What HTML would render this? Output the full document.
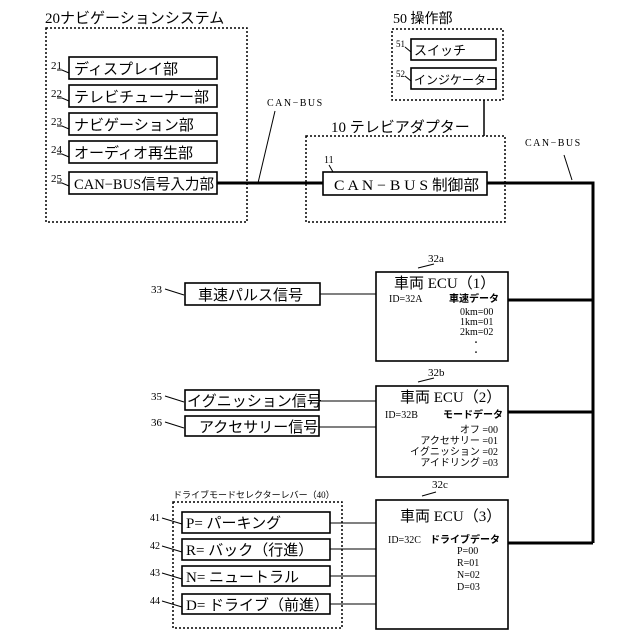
<!DOCTYPE html>
<html><head><meta charset="utf-8"><style>
html,body{margin:0;padding:0;background:#fff;}
svg{display:block;font-family:"Liberation Serif","Noto Sans CJK JP",serif;}
.b{fill:#fff;stroke:#000;stroke-width:1.6}
.d{fill:none;stroke:#000;stroke-width:1.5;stroke-dasharray:2 2}
.t{font-size:15px}
.s{font-size:11px}
.l{stroke:#000;stroke-width:1;fill:none}
.k{stroke:#000;stroke-width:3;fill:none}
.n{stroke:#000;stroke-width:1.5;fill:none}
</style></head><body>
<svg width="640" height="640" viewBox="0 0 640 640">
<text x="45" y="23" font-size="15">20ナビゲーションシステム</text>
<rect class="d" x="46" y="28" width="201" height="194"/>
<rect class="b" x="69" y="57" width="148" height="22"/><text class="t" x="74" y="74">ディスプレイ部</text>
<rect class="b" x="69" y="85" width="148" height="22"/><text class="t" x="74" y="102">テレビチューナー部</text>
<rect class="b" x="69" y="113" width="148" height="22"/><text class="t" x="74" y="130">ナビゲーション部</text>
<rect class="b" x="69" y="141" width="148" height="22"/><text class="t" x="74" y="158">オーディオ再生部</text>
<rect class="b" x="69" y="172" width="148" height="22"/><text class="t" x="74" y="189" textLength="140" lengthAdjust="spacingAndGlyphs">CAN−BUS信号入力部</text>
<g class="s"><text x="51" y="69">21</text><text x="51" y="97">22</text><text x="51" y="125">23</text><text x="51" y="153">24</text><text x="51" y="182">25</text></g>
<path class="l" d="M57 70 L62 70 L69 73 M57 98 L62 98 L69 101 M57 126 L62 126 L69 129 M57 154 L62 154 L69 157 M57 183 L62 183 L69 186"/>
<text x="267" y="106" font-size="10" letter-spacing="1.5">CAN−BUS</text>
<path class="l" d="M275 111 L258 183"/>
<text x="393" y="23" font-size="14">50 操作部</text>
<rect class="d" x="392" y="29" width="111" height="71"/>
<rect class="b" x="411" y="39" width="85" height="21"/><text x="414" y="55" font-size="13">スイッチ</text>
<rect class="b" x="411" y="68" width="85" height="21"/><text x="414" y="84" font-size="12">インジケーター</text>
<text x="396" y="47" font-size="9">51</text><text x="396" y="77" font-size="9">52</text>
<path class="l" d="M405 47 L411 52 M405 76 L411 81"/>
<path class="n" d="M484 100 L484 136" stroke-width="2"/>
<text x="331" y="132" font-size="15">10 テレビアダプター</text>
<rect class="d" x="306" y="136" width="199" height="86"/>
<text x="324" y="163" font-size="10">11</text><path class="l" d="M329 165 L333 172"/>
<rect class="b" x="323" y="172" width="164" height="23"/>
<text x="334" y="190" font-size="15" textLength="145" lengthAdjust="spacingAndGlyphs">C A N − B U S 制御部</text>
<path class="k" d="M217 183 L323 183 M487 183 L593 183 L593 543"/>
<text x="525" y="146" font-size="10" letter-spacing="1.5">CAN−BUS</text>
<path class="l" d="M564 155 L572 180"/>
<text x="428" y="262" font-size="11">32a</text><path class="l" d="M418 268 L434 264"/>
<rect class="b" x="376" y="272" width="132" height="89"/>
<text x="394" y="288" font-size="15">車両 ECU（1）</text>
<text x="389" y="302" font-size="10">ID=32A</text>
<text x="449" y="302" font-size="10" font-weight="bold">車速データ</text>
<text x="460" y="315" font-size="10">0km=00</text>
<text x="460" y="325" font-size="10">1km=01</text>
<text x="460" y="335" font-size="10">2km=02</text>
<text x="472" y="345" font-size="8">・</text><text x="472" y="355" font-size="8">・</text>
<path class="k" d="M508 300 L593 300"/>
<rect class="b" x="185" y="283" width="135" height="22"/><text class="t" x="198" y="300">車速パルス信号</text>
<text x="151" y="293" font-size="11">33</text><path class="l" d="M165 289 L184 295"/>
<path class="l" d="M320 294 L376 294"/>
<text x="428" y="376" font-size="11">32b</text><path class="l" d="M418 382 L434 378"/>
<rect class="b" x="376" y="386" width="132" height="91"/>
<text x="400" y="402" font-size="15">車両 ECU（2）</text>
<text x="385" y="418" font-size="10">ID=32B</text>
<text x="443" y="418" font-size="10" font-weight="bold">モードデータ</text>
<text x="498" y="433" font-size="10" text-anchor="end">オフ =00</text>
<text x="498" y="444" font-size="10" text-anchor="end">アクセサリー =01</text>
<text x="498" y="455" font-size="10" text-anchor="end">イグニッション =02</text>
<text x="498" y="466" font-size="10" text-anchor="end">アイドリング =03</text>
<path class="k" d="M508 412 L593 412"/>
<rect class="b" x="185" y="390" width="134" height="20"/><text class="t" x="187" y="406">イグニッション信号</text>
<rect class="b" x="185" y="416" width="134" height="20"/><text class="t" x="199" y="432">アクセサリー信号</text>
<text x="151" y="400" font-size="11">35</text><path class="l" d="M165 396 L184 402"/>
<text x="151" y="426" font-size="11">36</text><path class="l" d="M165 422 L184 428"/>
<path class="l" d="M319 401 L376 401 M319 427 L376 427"/>
<text x="432" y="488" font-size="11">32c</text><path class="l" d="M422 496 L436 492"/>
<rect class="b" x="376" y="500" width="132" height="129"/>
<text x="400" y="521" font-size="15">車両 ECU（3）</text>
<text x="388" y="543" font-size="10">ID=32C</text>
<text x="430" y="543" font-size="10" font-weight="bold">ドライブデータ</text>
<text x="457" y="554" font-size="10">P=00</text>
<text x="457" y="566" font-size="10">R=01</text>
<text x="457" y="578" font-size="10">N=02</text>
<text x="457" y="590" font-size="10">D=03</text>
<path class="k" d="M508 543 L593 543"/>
<text x="173" y="498" font-size="9">ドライブモードセレクターレバー（40）</text>
<rect class="d" x="173" y="502" width="169" height="126"/>
<rect class="b" x="182" y="512" width="148" height="21"/><text class="t" x="186" y="528">P= パーキング</text>
<rect class="b" x="182" y="539" width="148" height="21"/><text class="t" x="186" y="555">R= バック（行進）</text>
<rect class="b" x="182" y="566" width="148" height="20"/><text class="t" x="186" y="582">N= ニュートラル</text>
<rect class="b" x="182" y="594" width="148" height="20"/><text class="t" x="186" y="610">D= ドライブ（前進）</text>
<g font-size="10"><text x="150" y="521">41</text><text x="150" y="549">42</text><text x="150" y="576">43</text><text x="150" y="604">44</text></g>
<path class="l" d="M162 518 L182 524 M162 546 L182 552 M162 573 L182 579 M162 601 L182 607"/>
<path class="l" d="M330 523 L376 523 M330 549 L376 549 M330 576 L376 576 M330 604 L376 604"/>
</svg>
</body></html>
